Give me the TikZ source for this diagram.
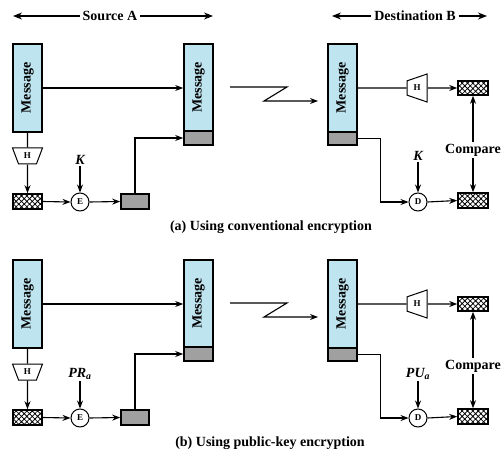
\documentclass[tikz,border=0pt]{standalone}
\usepackage{fontspec}
\setmainfont{Liberation Serif}
\usetikzlibrary{arrows.meta,patterns.meta,shapes.geometric}

\definecolor{msgblue}{RGB}{190,228,240}
\definecolor{macgray}{RGB}{160,160,160}

\tikzset{
  bigtxt/.style={font=\fontsize{14}{16}\selectfont\bfseries},
  keytxt/.style={font=\fontsize{14}{16}\selectfont\bfseries\itshape, inner sep=1pt},
  opstxt/.style={font=\fontsize{9}{10}\selectfont\bfseries},
  msgbox/.style={draw, line width=1.6pt, fill=msgblue, minimum width=29pt, minimum height=88pt, inner sep=0pt},
  macbox/.style={draw, line width=1.6pt, fill=macgray, minimum width=29pt, minimum height=14pt, inner sep=0pt},
  hashbox/.style={draw, line width=1.6pt, fill=white,
    postaction={pattern={Hatch[angle=45, distance=3.8pt, line width=0.8pt]}},
    minimum width=29pt, minimum height=15pt, inner sep=0pt},
  hashfn/.style={opstxt, draw, line width=1pt, fill=white, trapezium, trapezium stretches=true,
    trapezium left angle=68, trapezium right angle=68, inner sep=0pt},
  cryptop/.style={opstxt, draw, circle, line width=1pt, minimum size=18pt, inner sep=0pt},
  conn/.style={line width=1.1pt, -{Stealth[length=8pt,width=6pt]}},
  plain/.style={line width=1.1pt},
  span/.style={line width=1.1pt, -{Stealth[length=9pt,width=7pt]}},
}

\begin{document}
\begin{tikzpicture}[x=1pt,y=1pt,yscale=-1]
\useasboundingbox (0,0) rectangle (502,454);

% Extents of source and destination
\node[bigtxt, inner sep=3pt] (srcA) at (110,16) {Source A};
\coordinate (srcL) at (13,16);
\coordinate (srcR) at (213,16);
\draw[span] (srcA) -- (srcL);
\draw[span] (srcA) -- (srcR);
\node[bigtxt, inner sep=3pt] (dstB) at (415,16) {Destination B};
\coordinate (dstL) at (332,16);
\coordinate (dstR) at (487,16);
\draw[span] (dstB) -- (dstL);
\draw[span] (dstB) -- (dstR);

%%% (a) conventional encryption
% Sender side
\node[msgbox] (srcmsga) at (27.5,88) {};
\node[bigtxt, rotate=90] (srctxta) at (srcmsga) {Message};
\node[hashfn, shape border rotate=180, minimum width=30pt, minimum height=16pt] (hasha) at (27.5,156) {H};
\node[hashbox] (hsha) at (27.5,201.5) {};
\node[cryptop] (enca) at (80,202) {E};
\node[keytxt] (keya) at (80,160) {K};
\node[macbox, minimum width=28pt, minimum height=15pt] (maca) at (135,201.5) {};
\node[msgbox, minimum height=87pt] (sentmsga) at (198.5,87.5) {};
\node[bigtxt, rotate=90] (senttxta) at (sentmsga) {Message};
\node[macbox] (sentmaca) at (198.5,138) {};

\draw[conn] (srcmsga.east) -- (srcmsga.east -| sentmsga.west);
\draw[plain] (srcmsga.south) -- (hasha.north);
\draw[conn] (hasha.south) -- (hsha.north);
\draw[conn] (hsha.east) -- (enca.west);
\draw[conn] (keya.south) -- (enca.north);
\draw[conn] (enca.east) -- (maca.west);
\draw[conn] (maca.north) |- (sentmaca.west);

% Transmission
\coordinate (txa) at (230,87);
\coordinate (rxa) at (318,101);
\draw[conn] (txa) -- (287,87) -- (264,101) -- (rxa);

% Receiver side
\node[msgbox] (rcvmsga) at (342.5,88) {};
\node[bigtxt, rotate=90] (rcvtxta) at (rcvmsga) {Message};
\node[macbox, minimum height=13pt] (rcvmaca) at (342.5,138.5) {};
\node[hashfn, shape border rotate=90, minimum width=28pt, minimum height=20pt] (hashba) at (417,88) {H};
\node[hashbox, minimum width=30pt, minimum height=14pt] (hcmpa) at (473,88) {};
\node[hashbox, minimum width=30pt] (dcmpa) at (473,200.5) {};
\node[cryptop] (deca) at (418,202) {D};
\node[keytxt] (keyba) at (418,156) {K};
\node[bigtxt, inner sep=2pt] (cmpa) at (473,150) {Compare};

\draw[plain] (rcvmsga.east) -- (hashba.west);
\draw[conn] (hashba.east) -- (hcmpa.west);
\draw[conn] (rcvmaca.east) -- ++(23,0) |- (deca.west);
\draw[conn] (keyba.south) -- (deca.north);
\draw[conn] (deca.east) -- (dcmpa.west);
\draw[conn] (cmpa.north) -- (hcmpa.south);
\draw[conn] (cmpa.south) -- (dcmpa.north);

% Text Node
\node[bigtxt] (capa) at (271,227) {(a) Using conventional encryption};

%%% (b) public-key encryption
\begin{scope}[shift={(0,216)}]
% Sender side
\node[msgbox] (srcmsgb) at (27.5,88) {};
\node[bigtxt, rotate=90] (srctxtb) at (srcmsgb) {Message};
\node[hashfn, shape border rotate=180, minimum width=30pt, minimum height=16pt] (hashb) at (27.5,156) {H};
\node[hashbox] (hshb) at (27.5,201.5) {};
\node[cryptop] (encb) at (80,202) {E};
\node[keytxt] (keyb) at (80,158) {PR\textsubscript{a}};
\node[macbox, minimum width=28pt, minimum height=15pt] (macb) at (135,201.5) {};
\node[msgbox, minimum height=87pt] (sentmsgb) at (198.5,87.5) {};
\node[bigtxt, rotate=90] (senttxtb) at (sentmsgb) {Message};
\node[macbox] (sentmacb) at (198.5,138) {};

\draw[conn] (srcmsgb.east) -- (srcmsgb.east -| sentmsgb.west);
\draw[plain] (srcmsgb.south) -- (hashb.north);
\draw[conn] (hashb.south) -- (hshb.north);
\draw[conn] (hshb.east) -- (encb.west);
\draw[conn] (keyb.south) -- (encb.north);
\draw[conn] (encb.east) -- (macb.west);
\draw[conn] (macb.north) |- (sentmacb.west);

% Transmission
\coordinate (txb) at (230,87);
\coordinate (rxb) at (318,101);
\draw[conn] (txb) -- (287,87) -- (264,101) -- (rxb);

% Receiver side
\node[msgbox] (rcvmsgb) at (342.5,88) {};
\node[bigtxt, rotate=90] (rcvtxtb) at (rcvmsgb) {Message};
\node[macbox, minimum height=13pt] (rcvmacb) at (342.5,138.5) {};
\node[hashfn, shape border rotate=90, minimum width=28pt, minimum height=20pt] (hashbb) at (417,88) {H};
\node[hashbox, minimum width=30pt, minimum height=14pt] (hcmpb) at (473,88) {};
\node[hashbox, minimum width=30pt] (dcmpb) at (473,200.5) {};
\node[cryptop] (decb) at (418,202) {D};
\node[keytxt] (keybb) at (418,158) {PU\textsubscript{a}};
\node[bigtxt, inner sep=2pt] (cmpb) at (473,150) {Compare};

\draw[plain] (rcvmsgb.east) -- (hashbb.west);
\draw[conn] (hashbb.east) -- (hcmpb.west);
\draw[conn] (rcvmacb.east) -- ++(23,0) |- (decb.west);
\draw[conn] (keybb.south) -- (decb.north);
\draw[conn] (decb.east) -- (dcmpb.west);
\draw[conn] (cmpb.north) -- (hcmpb.south);
\draw[conn] (cmpb.south) -- (dcmpb.north);

% Text Node
\node[bigtxt] (capb) at (270,227) {(b) Using public-key encryption};
\end{scope}

\end{tikzpicture}
\end{document}
